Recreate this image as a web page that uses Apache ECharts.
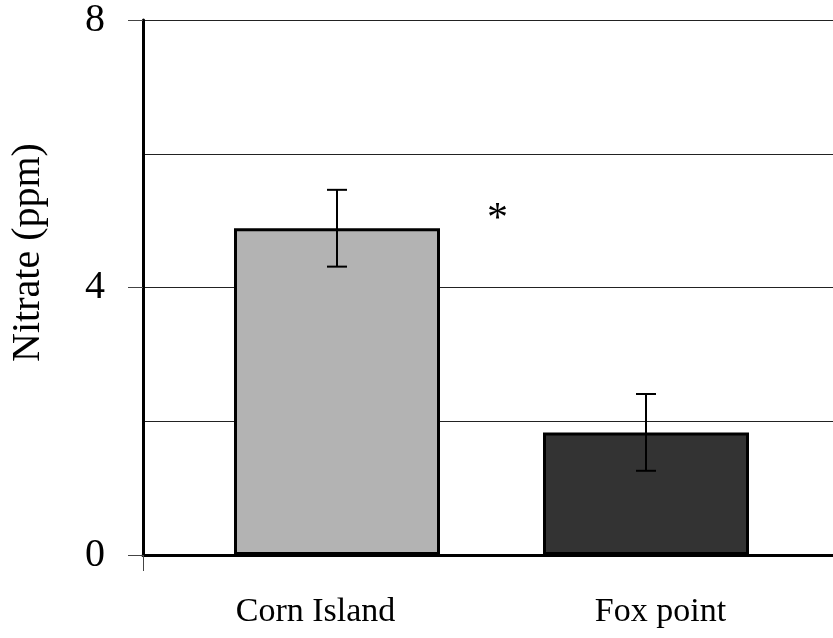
<!DOCTYPE html>
<html>
<head>
<meta charset="utf-8">
<script src="https://cdn.jsdelivr.net/npm/echarts@6/dist/echarts.min.js"></script>
<style>
  html, body { margin: 0; padding: 0; background: #fff; }
  #chart { width: 833px; height: 638px; }
</style>
</head>
<body>
<div id="chart"></div>
<script>
// Nitrate concentration by site, with standard-error bars
const sites = ['Corn Island', 'Fox point'];
const nitrate = [4.85, 1.82];
const stdErr = [0.57, 0.57];
const barColors = ['#b3b3b3', '#333333'];
const yTicks = [0, 4, 8];

const FONT = '"Liberation Serif", "Times New Roman", serif';

const chart = echarts.init(document.getElementById('chart'), null, { renderer: 'canvas' });

const errorData = sites.map((s, i) => [i, nitrate[i] - stdErr[i], nitrate[i] + stdErr[i]]);

chart.setOption({
  backgroundColor: '#ffffff',
  animation: false,
  grid: [
    // frame grid: axis lines, gridlines, tick labels
    { left: 143, right: 0, top: 16, bottom: 83 },
    // bar grid
    { left: 182.5, width: 618, top: 16, bottom: 83 }
  ],
  xAxis: [
    {
      type: 'category', gridIndex: 0, data: sites,
      axisLine: { show: true, lineStyle: { color: '#000', width: 3 } },
      axisTick: { show: true, length: 16, interval: (idx) => idx === 0, lineStyle: { color: '#444', width: 1 } },
      axisLabel: { show: true, margin: 40, fontFamily: FONT, fontSize: 34, color: '#000' },
      splitLine: { show: false }
    },
    {
      type: 'category', gridIndex: 1, data: sites,
      axisLine: { show: false }, axisTick: { show: false }, axisLabel: { show: false }
    }
  ],
  yAxis: [
    {
      type: 'value', gridIndex: 0, min: 0, max: 8, interval: 4,
      name: 'Nitrate (ppm)', nameLocation: 'middle', nameGap: 95,
      nameTextStyle: { fontFamily: FONT, fontSize: 40, color: '#000', padding: [0, 0, 0, 70] },
      axisLine: { show: true, lineStyle: { color: '#000', width: 3 } },
      axisTick: { show: true, length: 15, lineStyle: { color: '#444', width: 1 } },
      axisLabel: {
        margin: 38, fontFamily: FONT, fontSize: 40, color: '#000',
        formatter: (v) => (yTicks.includes(v) ? String(v) : '')
      },
      splitLine: { show: true, lineStyle: { color: '#222', width: 1 } },
      minorTick: { show: false, splitNumber: 2 },
      minorSplitLine: { show: true, lineStyle: { color: '#222', width: 1 } }
    },
    {
      type: 'value', gridIndex: 1, min: 0, max: 8, interval: 4,
      axisLine: { show: false }, axisTick: { show: false }, axisLabel: { show: false },
      splitLine: { show: false }
    }
  ],
  series: [
    {
      type: 'bar', xAxisIndex: 1, yAxisIndex: 1,
      barWidth: 206,
      data: nitrate.map((v, i) => ({
        value: v,
        itemStyle: { color: barColors[i], borderColor: '#000', borderWidth: 3 }
      })),
      z: 3
    },
    {
      type: 'custom', xAxisIndex: 1, yAxisIndex: 1,
      data: errorData,
      z: 5,
      renderItem: function (params, api) {
        const x = api.value(0);
        const lo = api.coord([x, api.value(1)]);
        const hi = api.coord([x, api.value(2)]);
        const cap = 10;
        const style = { stroke: '#000', lineWidth: 2 };
        return {
          type: 'group',
          children: [
            { type: 'line', shape: { x1: hi[0], y1: hi[1], x2: lo[0], y2: lo[1] }, style },
            { type: 'line', shape: { x1: hi[0] - cap, y1: hi[1], x2: hi[0] + cap, y2: hi[1] }, style },
            { type: 'line', shape: { x1: lo[0] - cap, y1: lo[1], x2: lo[0] + cap, y2: lo[1] }, style }
          ]
        };
      }
    }
  ],
  graphic: [
    {
      type: 'text', left: 487, top: 199, z: 10,
      style: { text: '*', fontFamily: FONT, fontSize: 42, fill: '#000' }
    }
  ]
});
</script>
</body>
</html>
